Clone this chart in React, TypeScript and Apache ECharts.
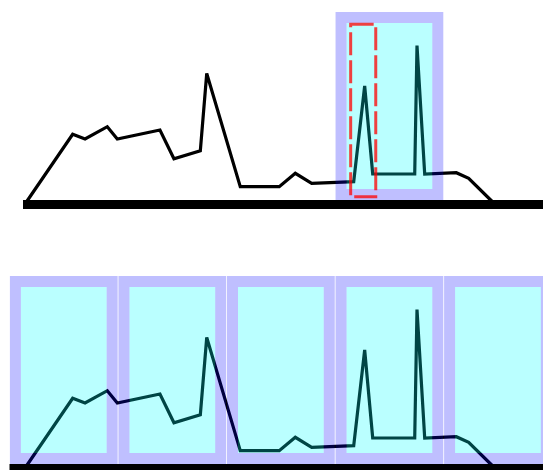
import React, { useEffect, useRef } from "react";
import * as echarts from "echarts";

// x positions (data units) and values of the line
const lineX = [14.3, 58.2, 69.6, 90.1, 99.3, 138.6, 151.5, 175.8, 181.7, 212.6, 248.5, 263.3, 278.4, 317.1, 327.2, 334.6, 373.3, 375.4, 382.5, 411.6, 423.0, 447.0];
const lineY = [0, 69.7, 65, 77.3, 65, 74, 45.3, 53.3, 130.5, 17.3, 17.3, 30.7, 20.7, 22.3, 118, 30, 30, 158.5, 30, 31.3, 25.7, 0];

// highlighted bands [start, end] in x units
const topBands = [[300, 400]];
const bottomBands = [[0, 100], [100, 200], [200, 300], [300, 400], [400, 500]];
const bandValueRange = [4, 192];

// red dashed selection [start, end]
const selection = [[314.3, 337.4]];
const selectionValueRange = [7.3, 179.7];

const X_MAX = 500;
const TOP_X_MIN = 12.44;

export default function App() {
  const ref = useRef<HTMLDivElement>(null);
  useEffect(() => {
    if (!ref.current) return;
    const chart = echarts.init(ref.current, null, { renderer: "svg" });
    const pts = lineX.map((x, i) => [x, lineY[i]]);
    const border = 11;
    const gap = 0.4;
    const bandRender = (params: any, api: any) => {
      const a = api.coord([api.value(0), bandValueRange[1]]);
      const b = api.coord([api.value(1), bandValueRange[0]]);
      const x = a[0] + gap;
      const y = a[1];
      const w = b[0] - a[0] - 2 * gap;
      const h = b[1] - a[1];
      return {
        type: "group",
        children: [
          {
            type: "rect",
            shape: { x: x + border, y: y + border, width: w - 2 * border, height: h - 2 * border },
            style: { fill: "rgba(0,255,255,0.27)" },
          },
          {
            type: "rect",
            shape: { x: x + border / 2, y: y + border / 2, width: w - border, height: h - border },
            style: { fill: "none", stroke: "rgba(0,0,255,0.25)", lineWidth: border },
          },
        ],
      };
    };
    const selRender = (params: any, api: any) => {
      const a = api.coord([api.value(0), selectionValueRange[1]]);
      const b = api.coord([api.value(1), selectionValueRange[0]]);
      return {
        type: "rect",
        shape: { x: a[0], y: a[1], width: b[0] - a[0], height: b[1] - a[1] },
        style: { fill: "none", stroke: "rgba(255,0,0,0.75)", lineWidth: 3, lineDash: [23, 5] },
      };
    };
    const xAxisBase = {
      type: "value",
      max: X_MAX,
      axisLine: { show: true, onZero: true, lineStyle: { color: "#000", width: 9, cap: "butt" } },
      axisTick: { show: false },
      axisLabel: { show: false },
      splitLine: { show: false },
    };
    chart.setOption({
      animation: false,
      grid: [
        { left: 23, top: 4, width: 529.25, height: 200, outerBoundsMode: "none" },
        { left: 9.5, top: 268, width: 542.75, height: 200, outerBoundsMode: "none" },
      ],
      xAxis: [
        { ...xAxisBase, gridIndex: 0, min: TOP_X_MIN },
        { ...xAxisBase, gridIndex: 1, min: 0 },
      ],
      yAxis: [
        { type: "value", gridIndex: 0, min: 0, max: 200, show: false },
        { type: "value", gridIndex: 1, min: 0, max: 200, show: false },
      ],
      series: [
        {
          type: "line", xAxisIndex: 0, yAxisIndex: 0, data: pts, symbol: "none", silent: true, z: 2,
          lineStyle: { color: "#000", width: 3.2, join: "miter" },
        },
        {
          type: "line", xAxisIndex: 1, yAxisIndex: 1, data: pts, symbol: "none", silent: true, z: 2,
          lineStyle: { color: "#000", width: 3.2, join: "miter" },
        },
        {
          type: "custom", xAxisIndex: 0, yAxisIndex: 0, data: topBands, renderItem: bandRender, silent: true, z: 3,
          encode: { x: [0, 1] },
        },
        {
          type: "custom", xAxisIndex: 1, yAxisIndex: 1, data: bottomBands, renderItem: bandRender, silent: true, z: 3,
          encode: { x: [0, 1] },
        },
        {
          type: "custom", xAxisIndex: 0, yAxisIndex: 0, data: selection, renderItem: selRender, silent: true, z: 4,
          encode: { x: [0, 1] },
        },
      ],
    });
    return () => chart.dispose();
  }, []);
  return (
    <div
      ref={ref}
      style={{ position: "absolute", left: 0, top: 0, width: 543, height: 470 }}
    />
  );
}
